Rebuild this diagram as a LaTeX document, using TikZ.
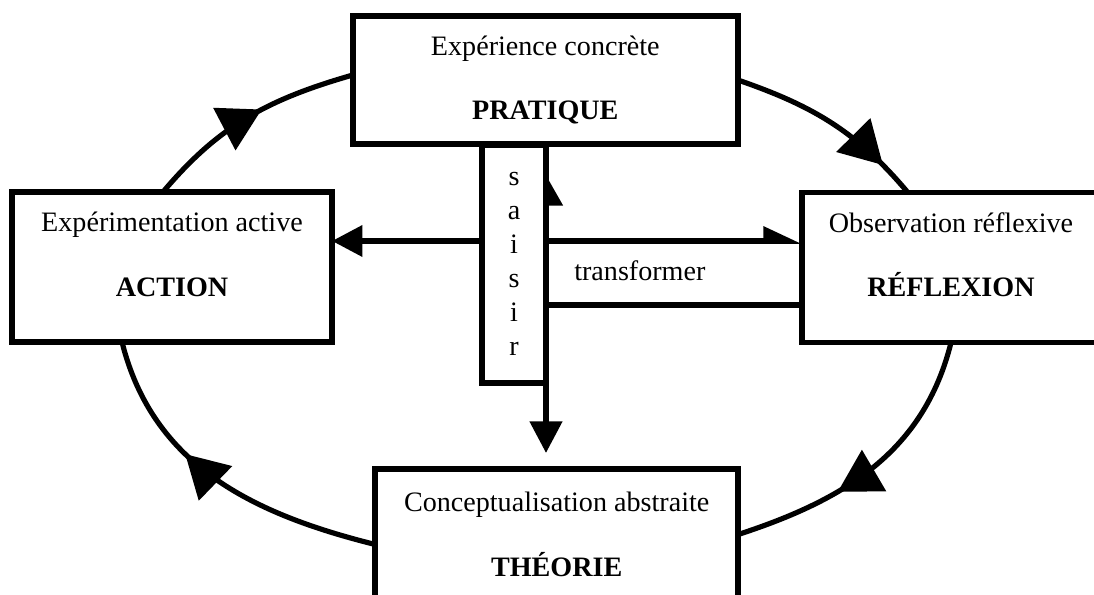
\documentclass[tikz,border=0pt]{standalone}
\usepackage{fontspec}
\setmainfont{Liberation Serif}
\usetikzlibrary{arrows.meta,positioning,decorations.markings}

\tikzset{
  stage/.style={rectangle,draw,line width=2.4pt,fill=white,align=center,outer sep=0pt},
  cyclearc/.style={line width=2.2pt,postaction={decorate},
    decoration={markings,mark=at position #1 with {\arrow{Triangle[length=18pt,width=20pt]}}}},
  link/.style={line width=2.4pt}
}

\begin{document}
\begin{tikzpicture}[every node/.style={font=\fontsize{12}{14.5}\selectfont}]
  \useasboundingbox (0,0) rectangle (16.41,8.925);
  % les quatre etapes du cycle
  \node[stage,minimum width=5.775cm,minimum height=1.92cm] (pratique) at (8.18,7.725)
    {Expérience concrète\\[13pt]\textbf{PRATIQUE}};
  \node[stage,minimum width=4.8cm,minimum height=2.25cm] (action) at (2.58,4.92)
    {Expérimentation active\\[13pt]\textbf{ACTION}\rule[-11pt]{0pt}{11pt}};
  \node[stage,minimum width=4.47cm,minimum height=2.25cm] (reflexion) at (14.265,4.91)
    {Observation réflexive\\[13pt]\textbf{RÉFLEXION}\rule[-11pt]{0pt}{11pt}};
  \node[stage,minimum width=5.445cm,minimum height=1.965cm] (theorie) at (8.35,0.9075)
    {Conceptualisation abstraite\\[13pt]\textbf{THÉORIE}};
  % le cycle
  \draw[cyclearc=0.57] ([xshift=-0.135cm]action.north) to[out=50,in=196] ([yshift=0.075cm]pratique.west);
  \draw[cyclearc=0.82] (pratique.east) to[out=-19,in=130] ([xshift=1.59cm]reflexion.north west);
  \draw[cyclearc=0.64] (reflexion.south) to[out=-104,in=18] (theorie.east);
  \draw[cyclearc=0.62] ([yshift=-0.15cm]theorie.west) to[out=166,in=-76] ([xshift=-0.75cm]action.south);
  % transformer
  \coordinate (transtop) at (8.19,5.31);
  \coordinate (transbot) at (8.19,4.35);
  \draw[link,{Triangle[length=13pt,width=13pt]}-{Triangle[length=13.7pt,width=12pt,left]}]
    (action.east |- transtop) -- (reflexion.west |- transtop);
  \draw[link] (transbot) -- (reflexion.west |- transbot);
  \node[right=0.3cm of transbot,yshift=0.52cm] (transformer) {transformer};
  % saisir
  \node[stage,minimum width=0.96cm,minimum height=3.57cm] (saisir) at (7.71,4.965)
    {s\\a\\i\\s\\i\\r};
  \coordinate (saisirtop) at ([yshift=-0.375cm]saisir.north east);
  \draw[link,shorten <=0.24cm,{Triangle[length=13.5pt,width=13.5pt]}-{Triangle[length=13pt,width=14pt,right]}]
    (saisir.east |- theorie.north) -- (saisirtop);
\end{tikzpicture}
\end{document}
